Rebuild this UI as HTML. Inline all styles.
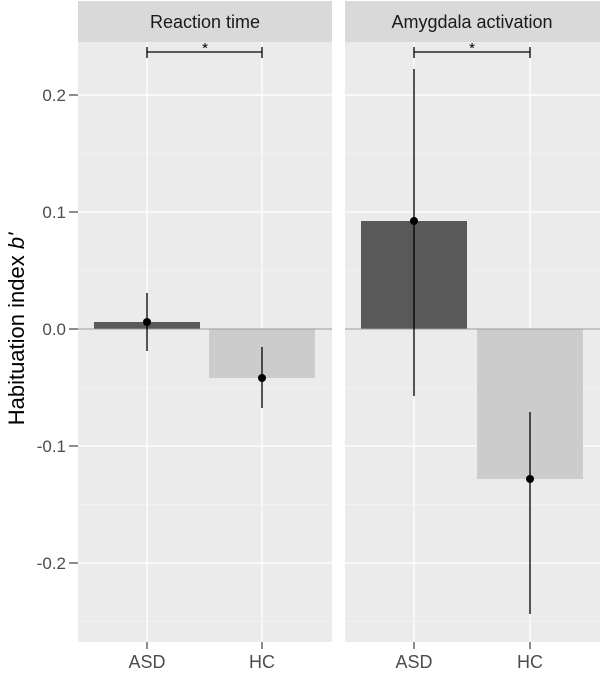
<!DOCTYPE html>
<html><head><style>body{margin:0;background:#fff}</style></head><body>
<svg width="600" height="671" xmlns="http://www.w3.org/2000/svg" font-family="Liberation Sans, sans-serif">
<rect width="600" height="671" fill="#fff"/>
<rect x="78" y="42" width="254" height="600" fill="#ebebeb"/>
<rect x="78" y="1" width="254" height="41" fill="#d9d9d9"/>
<rect x="345" y="42" width="255" height="600" fill="#ebebeb"/>
<rect x="345" y="1" width="255" height="41" fill="#d9d9d9"/>
<g stroke="#f7f7f7" stroke-width="0.6">
<line x1="78" x2="332" y1="153.5" y2="153.5"/><line x1="78" x2="332" y1="270.5" y2="270.5"/><line x1="78" x2="332" y1="387.5" y2="387.5"/><line x1="78" x2="332" y1="504.5" y2="504.5"/><line x1="78" x2="332" y1="621.5" y2="621.5"/>
<line x1="345" x2="600" y1="153.5" y2="153.5"/><line x1="345" x2="600" y1="270.5" y2="270.5"/><line x1="345" x2="600" y1="387.5" y2="387.5"/><line x1="345" x2="600" y1="504.5" y2="504.5"/><line x1="345" x2="600" y1="621.5" y2="621.5"/>
</g>
<g stroke="#fff" stroke-width="1.3">
<line x1="78" x2="332" y1="95" y2="95"/><line x1="78" x2="332" y1="212" y2="212"/><line x1="78" x2="332" y1="329" y2="329"/><line x1="78" x2="332" y1="446" y2="446"/><line x1="78" x2="332" y1="563" y2="563"/>
<line x1="345" x2="600" y1="95" y2="95"/><line x1="345" x2="600" y1="212" y2="212"/><line x1="345" x2="600" y1="329" y2="329"/><line x1="345" x2="600" y1="446" y2="446"/><line x1="345" x2="600" y1="563" y2="563"/>
<line x1="147" x2="147" y1="42" y2="642"/><line x1="262" x2="262" y1="42" y2="642"/>
<line x1="414" x2="414" y1="42" y2="642"/><line x1="530" x2="530" y1="42" y2="642"/>
</g>
<rect x="94" y="322" width="106" height="7" fill="#595959"/>
<rect x="209" y="329" width="106" height="49" fill="#cccccc"/>
<rect x="361" y="221" width="106" height="108" fill="#595959"/>
<rect x="477" y="329" width="106" height="150" fill="#cccccc"/>
<g stroke="#999" stroke-width="1"><line x1="78" x2="332" y1="329" y2="329"/><line x1="345" x2="600" y1="329" y2="329"/></g>
<g stroke="#000" stroke-width="1.3">
<line x1="147" x2="147" y1="293" y2="351"/><line x1="262" x2="262" y1="347" y2="408"/>
<line x1="414" x2="414" y1="69" y2="396"/><line x1="530" x2="530" y1="412" y2="614"/>
<line x1="147" x2="262" y1="52" y2="52"/><line x1="147" x2="147" y1="47" y2="58"/><line x1="262" x2="262" y1="47" y2="58"/>
<line x1="414" x2="530" y1="52" y2="52"/><line x1="414" x2="414" y1="47" y2="58"/><line x1="530" x2="530" y1="47" y2="58"/>
</g>
<g fill="#000"><circle cx="147" cy="322" r="4"/><circle cx="262" cy="378" r="4"/><circle cx="414" cy="221" r="4"/><circle cx="530" cy="479" r="4"/></g>
<g font-size="15" text-anchor="middle"><text x="205" y="53">*</text><text x="472" y="53">*</text></g>
<g font-size="18" fill="#1a1a1a" text-anchor="middle"><text x="205" y="28">Reaction time</text><text x="472" y="28">Amygdala activation</text></g>
<g font-size="17" fill="#4d4d4d" text-anchor="end">
<text x="66" y="101">0.2</text><text x="66" y="218">0.1</text><text x="66" y="335">0.0</text><text x="66" y="452">-0.1</text><text x="66" y="569">-0.2</text></g>
<g stroke="#4d4d4d" stroke-width="1.3">
<line x1="69" x2="78" y1="95" y2="95"/><line x1="69" x2="78" y1="212" y2="212"/><line x1="69" x2="78" y1="329" y2="329"/><line x1="69" x2="78" y1="446" y2="446"/><line x1="69" x2="78" y1="563" y2="563"/>
<line x1="147" x2="147" y1="642" y2="649"/><line x1="262" x2="262" y1="642" y2="649"/><line x1="414" x2="414" y1="642" y2="649"/><line x1="530" x2="530" y1="642" y2="649"/></g>
<g font-size="18" fill="#4d4d4d" text-anchor="middle"><text x="147" y="668">ASD</text><text x="262" y="668">HC</text><text x="414" y="668">ASD</text><text x="530" y="668">HC</text></g>
<text transform="translate(24,329) rotate(-90)" font-size="22" text-anchor="middle" fill="#000">Habituation index <tspan font-style="italic">b'</tspan></text>
</svg>
</body></html>
